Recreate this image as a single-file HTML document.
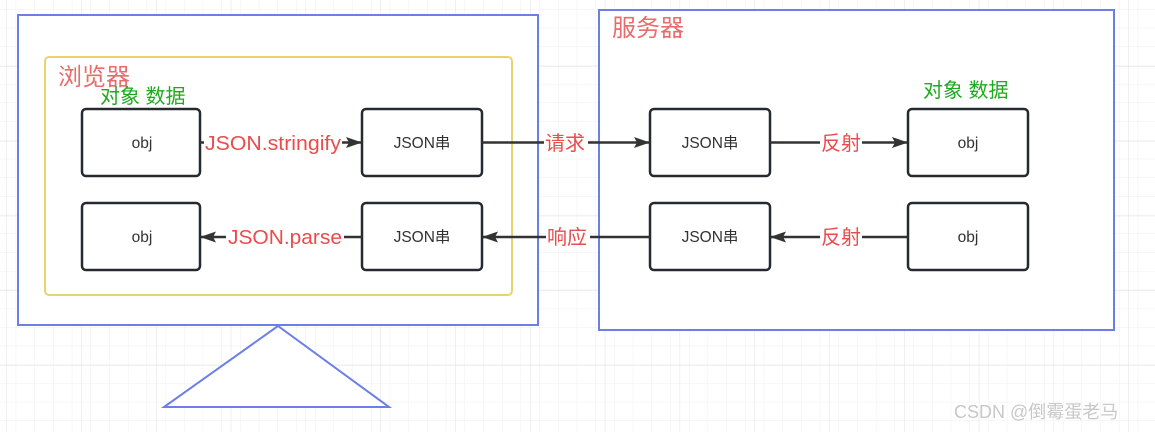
<!DOCTYPE html>
<html><head><meta charset="utf-8"><style>
html,body{margin:0;padding:0;background:#fff;}
svg{display:block;}
text{font-family:"Liberation Sans","Noto Sans CJK SC",sans-serif;}
</style></head><body>
<svg width="1155" height="432" viewBox="0 0 1155 432" xmlns="http://www.w3.org/2000/svg">
<defs>
<pattern id="g" x="15.7" y="9.1" width="18.7" height="18.7" patternUnits="userSpaceOnUse">
<path d="M0 0H18.7M0 0V18.7" stroke="#efefef" stroke-width="1" fill="none"/>
</pattern>
<pattern id="G" x="6.4" y="-8.7" width="74.8" height="74.8" patternUnits="userSpaceOnUse">
<path d="M0 0H74.8M0 0V74.8" stroke="#e2e2e2" stroke-width="1" fill="none"/>
</pattern>
<marker id="a" markerWidth="16" markerHeight="12" refX="15" refY="6" orient="auto" markerUnits="userSpaceOnUse">
<path d="M0 0.5L16 6L0 11.5L3 6Z" fill="#333"/>
</marker>
</defs>
<rect width="1155" height="432" fill="#fff"/>
<rect width="1155" height="432" fill="url(#g)"/>
<rect width="1155" height="432" fill="url(#G)"/>

<rect x="18" y="15" width="520" height="310" fill="#fff" stroke="#6b7fe6" stroke-width="2"/>
<rect x="599" y="10" width="515" height="320" fill="#fff" stroke="#6b7fe6" stroke-width="2"/>
<rect x="45" y="57" width="467" height="238" rx="4" fill="#fff" stroke="#e8d46e" stroke-width="2"/>
<path d="M278 326L164 407H389Z" fill="#fff" stroke="#6b7fe6" stroke-width="2"/>

<text x="58" y="85" font-size="24" fill="#ea6b6b">浏览器</text>
<text x="612" y="36" font-size="24" fill="#ea6b6b">服务器</text>
<text x="100" y="103" font-size="20" fill="#1eaa1e">对象 数据</text>
<text x="923" y="97" font-size="20" fill="#1eaa1e">对象 数据</text>

<g fill="#fff" stroke="#262a30" stroke-width="2.5">
<rect x="82" y="109" width="118" height="67" rx="4"/>
<rect x="362" y="109" width="120" height="67" rx="4"/>
<rect x="650" y="109" width="120" height="67" rx="4"/>
<rect x="908" y="109" width="120" height="67" rx="4"/>
<rect x="82" y="203" width="118" height="67" rx="4"/>
<rect x="362" y="203" width="120" height="67" rx="4"/>
<rect x="650" y="203" width="120" height="67" rx="4"/>
<rect x="908" y="203" width="120" height="67" rx="4"/>
</g>
<g font-size="15.5" fill="#333" text-anchor="middle">
<text x="142" y="148">obj</text><text x="422" y="148">JSON串</text>
<text x="710" y="148">JSON串</text><text x="968" y="148">obj</text>
<text x="142" y="242">obj</text><text x="422" y="242">JSON串</text>
<text x="710" y="242">JSON串</text><text x="968" y="242">obj</text>
</g>

<g stroke="#333" stroke-width="2.5" fill="none">
<line x1="200" y1="142.5" x2="361" y2="142.5" marker-end="url(#a)"/>
<line x1="482" y1="142.5" x2="649" y2="142.5" marker-end="url(#a)"/>
<line x1="770" y1="142.5" x2="907" y2="142.5" marker-end="url(#a)"/>
<line x1="362" y1="237" x2="201" y2="237" marker-end="url(#a)"/>
<line x1="650" y1="237" x2="483" y2="237" marker-end="url(#a)"/>
<line x1="908" y1="237" x2="771" y2="237" marker-end="url(#a)"/>
</g>
<g fill="#fff">
<rect x="204" y="130" width="138" height="24"/>
<rect x="544" y="130" width="44" height="24"/>
<rect x="820" y="130" width="42" height="24"/>
<rect x="226" y="225" width="118" height="24"/>
<rect x="546" y="225" width="44" height="24"/>
<rect x="820" y="225" width="42" height="24"/>
</g>
<g font-size="20" fill="#ea4b4b">
<text x="205" y="150" textLength="136" lengthAdjust="spacingAndGlyphs">JSON.stringify</text>
<text x="545" y="150">请求</text>
<text x="821" y="150">反射</text>
<text x="228" y="244" textLength="114" lengthAdjust="spacingAndGlyphs">JSON.parse</text>
<text x="547" y="244">响应</text>
<text x="821" y="244">反射</text>
</g>
<text x="954" y="418" font-size="18" fill="#c8c8c8">CSDN @倒霉蛋老马</text>
</svg>
</body></html>
